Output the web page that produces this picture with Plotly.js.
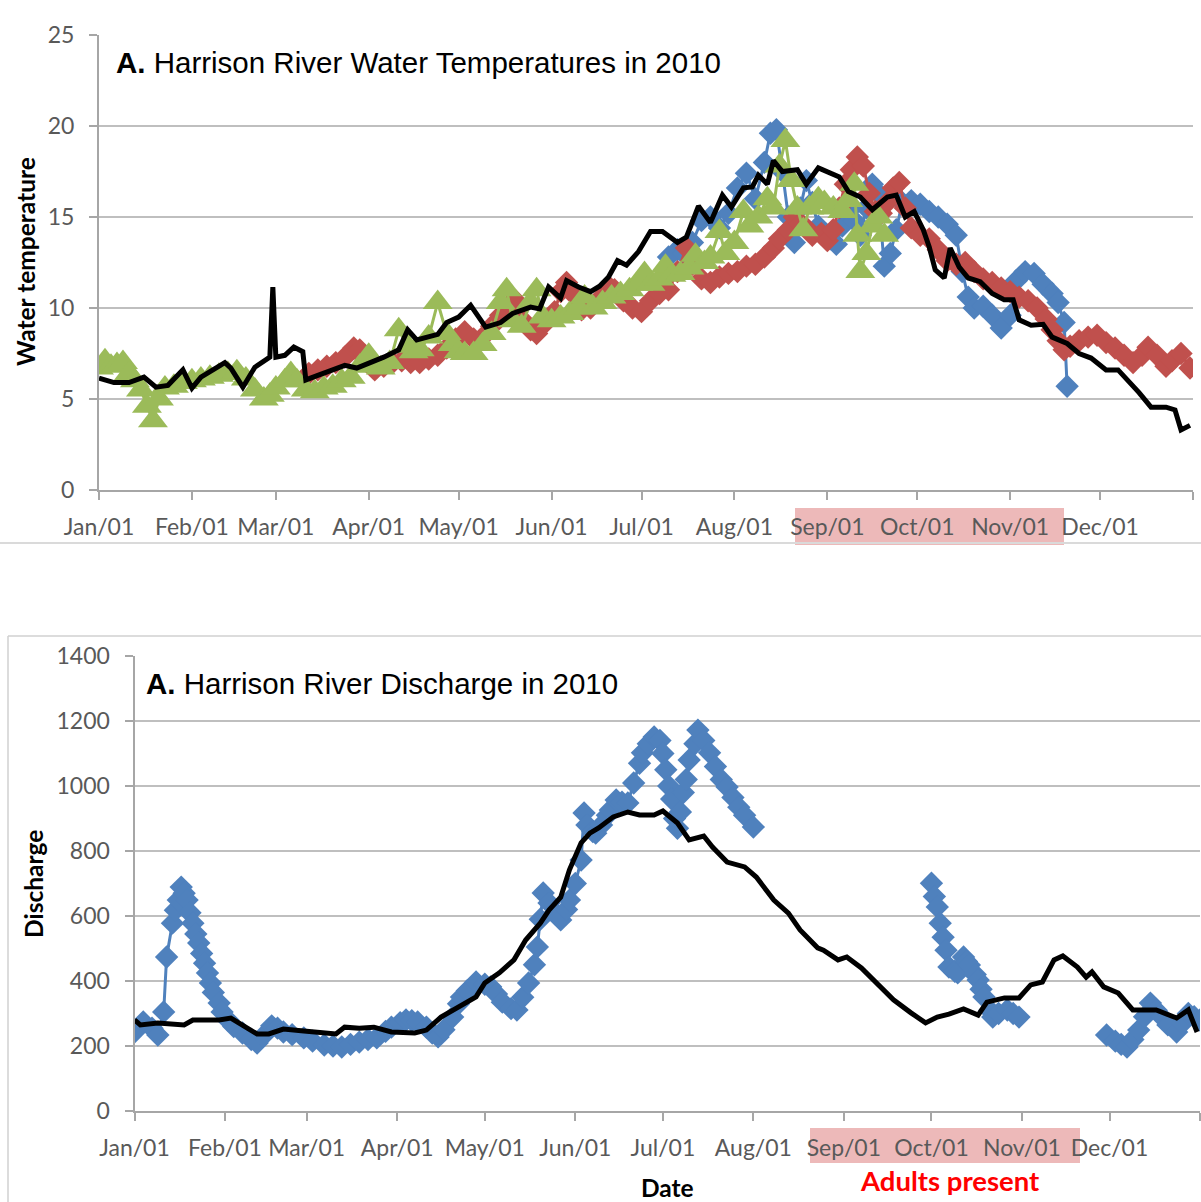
<!DOCTYPE html>
<html>
<head>
<meta charset="utf-8">
<script src="https://cdn.plot.ly/plotly-3.0.1.min.js"></script>
<style>
  html, body { margin: 0; padding: 0; background: #ffffff; }
  #chart { width: 1201px; height: 1202px; }
</style>
</head>
<body>
<div id="chart"></div>
<script>
// ---- Water temperature, 2010 (day of year counted from Jan 1) ----
const tempBlackDays = [0,5,10,15,19,23,28,31,34,39,42,44,48,52,56,57,58,59,62,65,68,69,73,78,82,86,91,95,100,103,106,110,113,116,120,124,129,134,138,144,147,150,154,156,160,164,167,170,173,176,180,184,188,193,196,200,204,208,211,215,218,220,223,225,228,233,236,240,244,247,250,254,258,263,266,269,272,275,277,279,282,284,287,290,294,298,302,305,307,311,315,318,323,327,331,336,340,344,347,351,356,359,361,364];
const tempBlack = [6.15,5.9,5.9,6.2,5.65,5.75,6.6,5.6,6.2,6.75,7.0,6.7,5.65,6.75,7.15,7.3,11.15,7.3,7.4,7.85,7.6,6.05,6.3,6.6,6.85,6.7,7.0,7.3,7.7,8.8,8.25,8.4,8.55,9.2,9.5,10.15,8.95,9.2,9.7,10.05,9.95,11.15,10.55,11.5,11.15,10.9,11.2,11.7,12.6,12.35,13.1,14.2,14.2,13.6,13.9,15.6,14.7,16.2,15.55,16.6,16.65,17.3,16.8,18.1,17.5,17.6,16.8,17.7,17.4,17.2,16.4,16.1,15.4,16.1,16.2,15.0,15.3,14.3,13.35,12.1,11.65,13.3,12.25,11.65,11.45,10.8,10.45,10.45,9.35,9.05,9.1,8.4,8.05,7.5,7.25,6.6,6.6,5.9,5.35,4.55,4.55,4.4,3.3,3.55];

const tempGreenDays = [0,2,4,6,8,10,12,14,16,18,20,22,25,28,31,34,37,40,43,46,49,52,55,57,59,62,64,66,69,72,75,78,81,84,87,90,92,94,97,100,103,105,107,110,113,116,118,120,122,125,128,131,134,136,138,141,144,146,148,151,154,157,160,162,165,168,171,174,177,180,182,184,187,189,191,194,197,199,202,204,207,209,212,215,217,220,223,225,227,229,231,233,235,237,240,242,245,248,250,252,253,254,256,258,260,262];
const tempGreen = [6.7,7.1,6.8,6.9,7.0,6.4,6.0,5.5,4.6,3.8,5.0,5.6,5.7,5.9,6.0,6.1,6.2,6.3,6.4,6.5,6.1,5.5,5.0,5.2,5.6,6.0,6.4,6.0,5.5,5.4,5.6,5.7,6.0,6.2,6.8,7.4,6.9,6.7,7.0,8.8,7.9,7.6,7.7,8.4,10.3,8.6,8.0,7.6,7.5,7.5,8.0,8.6,10.3,11.0,9.3,9.0,10.3,11.0,9.5,9.3,9.5,9.7,10.0,10.6,10.0,10.3,10.6,10.8,11.0,11.3,11.9,11.3,11.6,12.3,11.8,11.9,12.2,12.9,12.5,12.8,14.2,13.0,13.6,15.3,14.5,15.0,16.0,15.5,17.8,19.2,17.0,15.5,14.3,15.5,16.0,15.8,15.5,15.3,15.9,16.8,14.0,12.0,13.0,14.5,15.0,14.0];

const tempRedDays = [70,73,76,79,82,85,87,89,92,95,98,101,104,107,110,113,116,119,122,125,128,131,134,137,139,141,144,146,149,152,154,156,158,161,164,167,170,172,175,178,181,184,187,190,193,196,198,201,204,207,210,213,216,219,222,225,227,230,232,234,236,238,241,243,245,247,249,251,253,255,257,259,261,263,265,267,269,271,274,277,280,283,286,289,292,295,298,301,304,307,310,313,316,318,320,322,324,327,330,333,336,339,342,345,348,350,353,356,358,361,364];
const tempRed = [6.4,6.6,6.8,7.0,7.3,7.8,7.7,7.2,6.6,6.8,7.0,7.1,7.0,7.0,7.2,7.4,7.8,8.3,8.7,8.3,8.4,9.0,9.6,10.2,10.4,9.4,8.8,8.6,9.2,9.8,10.9,11.4,10.8,9.9,10.0,10.5,11.2,11.0,10.4,10.0,9.8,10.4,10.8,11.0,12.0,13.3,12.4,11.6,11.4,11.7,11.9,12.0,12.3,12.4,12.8,13.3,13.8,14.3,15.0,14.6,14.4,14.0,14.1,13.7,14.3,15.5,16.8,17.6,18.3,17.8,16.3,15.3,15.2,15.8,16.6,16.9,15.5,14.4,14.0,13.8,13.2,12.6,12.4,12.5,12.0,11.6,11.4,11.1,10.9,10.6,10.4,10.0,9.4,8.8,8.2,7.7,7.9,8.2,8.4,8.5,8.1,7.8,7.4,7.0,7.4,7.85,7.4,6.8,7.1,7.5,6.7];

const tempBlueDays = [190,193,195,198,201,204,207,210,213,216,219,222,224,226,228,230,232,234,236,238,240,242,244,246,248,250,252,254,256,258,260,262,264,266,268,271,274,277,280,283,286,288,290,292,295,298,301,304,306,309,312,315,318,320,322,323];
const tempBlue = [12.8,13.2,13.0,13.6,14.8,15.0,14.4,15.2,16.6,17.4,16.0,18.0,19.6,19.8,17.5,15.0,13.6,15.5,17.0,15.8,14.5,14.0,13.8,13.5,14.5,15.3,14.8,14.0,15.5,16.8,16.3,12.3,13.0,14.3,15.8,15.9,15.7,15.3,15.0,14.6,14.0,12.0,10.6,10.0,10.1,9.6,8.9,9.6,11.5,12.0,11.9,11.3,10.8,10.3,9.2,5.7];

// ---- Discharge, 2010 (null = no record, line is broken) ----
const flowBlackDays = [0,2,8,17,20,29,33,38,42,46,51,58,65,69,72,77,82,88,96,100,105,111,117,120,125,130,134,139,142,146,149,153,156,159,164,169,173,178,181,186,190,195,198,203,209,213,219,224,228,234,236,241,244,249,254,260,266,271,275,279,284,289,292,298,303,307,311,315,318,323,326,328,332,337,342,346,350,357,361,364];
const flowBlack = [280,265,271,265,280,280,286,258,237,237,252,246,240,237,258,255,258,243,240,249,289,320,351,394,425,465,526,578,618,658,742,825,855,871,905,920,911,911,923,886,834,846,812,766,751,720,649,609,557,502,495,465,474,440,394,342,302,271,289,298,314,295,335,348,348,388,397,465,477,443,412,428,382,363,311,311,311,286,311,243];

const flowBlueDays = [0,3,6,8,10,11,13,14,15,16,17,18,19,20,21,22,23,24,25,26,27,29,30,32,34,37,40,42,44,47,49,51,54,58,61,65,68,71,74,77,80,83,86,88,91,93,95,97,100,102,104,106,109,111,112,114,117,120,122,124,126,129,131,133,135,137,138,139,140,142,144,146,148,149,151,153,154,155,157,158,160,162,163,165,167,169,171,173,174,176,178,180,181,182,183,184,185,186,187,188,189,190,192,193,195,197,199,201,203,205,207,209,212,
  240,
  273,274,275,276,277,278,279,281,282,284,285,286,288,289,290,291,293,294,296,299,301,303,
  318,
  333,336,338,340,342,344,346,348,350,352,354,357,359,361,363,365];
const flowBlue = [243,274,255,234,305,474,578,618,649,689,670,649,610,578,545,517,485,455,425,394,365,332,305,280,260,240,220,209,230,262,255,243,235,225,215,203,200,197,205,212,220,225,245,258,272,280,278,274,258,240,228,250,289,330,351,370,397,390,382,360,335,315,311,350,394,450,505,590,671,640,610,588,620,649,700,772,917,880,860,855,880,910,926,957,950,948,1009,1070,1102,1130,1151,1140,1100,1050,1000,960,900,870,920,980,1020,1080,1130,1172,1140,1102,1060,1020,997,965,935,910,874,
  null,
  701,660,628,578,535,495,443,430,425,474,460,449,420,403,375,351,310,289,300,311,300,289,
  null,
  234,215,205,197,220,249,290,332,310,289,265,243,270,300,290,280];

// Month ticks (first of each month) plus the closing tick at year end
const monthTickDates = ['2010-01-01','2010-02-01','2010-03-01','2010-04-01','2010-05-01','2010-06-01','2010-07-01','2010-08-01','2010-09-01','2010-10-01','2010-11-01','2010-12-01','2011-01-01'];
const monthTickText = ['Jan/01','Feb/01','Mar/01','Apr/01','May/01','Jun/01','Jul/01','Aug/01','Sep/01','Oct/01','Nov/01','Dec/01',''];

const tempTicks = [0,5,10,15,20,25];
const flowTicks = [0,200,400,600,800,1000,1200,1400];

// ---- helpers ----
const DAY_MS = 86400000;
const START = Date.UTC(2010, 0, 1);
const toDate = d => new Date(START + d * DAY_MS).toISOString().slice(0, 10);

const W = 1201, H = 1202;
const px = x => x / W;           // paper x from page pixels
const py = y => (H - y) / H;     // paper y from page pixels

const BLUE = '#4F81BD', RED = '#C0504D', GREEN = '#9BBB59';
const TICK_FONT = {family: 'Lato, "Open Sans", sans-serif', size: 23, color: '#595959'};
const TITLE_FONT = {family: '"Liberation Sans", Arial, sans-serif', size: 29.5, color: '#000000'};
const AXIS_TITLE_FONT = {family: 'Lato, "Open Sans", sans-serif', size: 24.5, color: '#000000'};

function markerSeries(days, vals, color, symbol, size, xa, ya, lw) {
  return {
    type: 'scatter', mode: 'lines+markers',
    x: days.map(toDate), y: vals, xaxis: xa, yaxis: ya,
    line: {color: color, width: lw},
    marker: {symbol: symbol, size: size, color: color, line: {width: 0}},
    connectgaps: false, hoverinfo: 'x+y', showlegend: false
  };
}
function lineSeries(days, vals, xa, ya) {
  return {
    type: 'scatter', mode: 'lines',
    x: days.map(toDate), y: vals, xaxis: xa, yaxis: ya,
    line: {color: '#000000', width: 5},
    hoverinfo: 'x+y', showlegend: false
  };
}

const data = [
  markerSeries(tempBlueDays, tempBlue, BLUE, 'diamond', 18, 'x', 'y', 3),
  markerSeries(tempRedDays, tempRed, RED, 'diamond', 18, 'x', 'y', 3),
  markerSeries(tempGreenDays, tempGreen, GREEN, 'triangle-up', 26, 'x', 'y', 3),
  lineSeries(tempBlackDays, tempBlack, 'x', 'y'),
  markerSeries(flowBlueDays, flowBlue, BLUE, 'diamond', 18, 'x2', 'y2', 3),
  lineSeries(flowBlackDays, flowBlack, 'x2', 'y2')
];

function dateAxis(domain, anchor) {
  return {
    type: 'date', domain: domain, anchor: anchor,
    range: ['2010-01-01', '2011-01-01'],
    tickmode: 'array', tickvals: monthTickDates, ticktext: monthTickText,
    ticks: 'outside', ticklen: 8, tickwidth: 2, tickcolor: '#A6A6A6',
    showline: true, linecolor: '#A6A6A6', linewidth: 2,
    showgrid: false, zeroline: false,
    tickfont: TICK_FONT, ticklabelstandoff: 7, fixedrange: true
  };
}
function valueAxis(domain, anchor, range, ticks) {
  return {
    domain: domain, anchor: anchor, range: range,
    tickmode: 'array', tickvals: ticks,
    ticks: 'outside', ticklen: 8, tickwidth: 2, tickcolor: '#A6A6A6',
    showline: true, linecolor: '#A6A6A6', linewidth: 2,
    showgrid: true, gridcolor: '#BFBFBF', gridwidth: 2,
    zeroline: false, tickfont: TICK_FONT, ticklabelstandoff: 10, fixedrange: true
  };
}

const layout = {
  width: W, height: H,
  margin: {l: 0, r: 0, t: 0, b: 0},
  paper_bgcolor: '#ffffff', plot_bgcolor: 'rgba(0,0,0,0)',
  showlegend: false,
  xaxis: dateAxis([px(99), px(1193)], 'y'),
  yaxis: valueAxis([py(490), py(35)], 'x', [0, 25], tempTicks),
  xaxis2: dateAxis([px(134.5), px(1200)], 'y2'),
  yaxis2: valueAxis([py(1111), py(656)], 'x2', [0, 1400], flowTicks),
  shapes: [
    // spawning-period highlight behind the Sep-Nov labels
    {type: 'rect', xref: 'paper', yref: 'paper', layer: 'below',
     x0: px(795), x1: px(1064), y0: py(545), y1: py(508),
     fillcolor: '#EDB9B9', line: {width: 0}},
    {type: 'rect', xref: 'paper', yref: 'paper', layer: 'below',
     x0: px(810), x1: px(1080), y0: py(1163), y1: py(1128),
     fillcolor: '#EDB9B9', line: {width: 0}},
    // panel separators
    {type: 'line', xref: 'paper', yref: 'paper', x0: 0, x1: 1, y0: py(543), y1: py(543),
     line: {color: '#DADADA', width: 2}},
    {type: 'line', xref: 'paper', yref: 'paper', x0: px(8), x1: 1, y0: py(636), y1: py(636),
     line: {color: '#D0D0D0', width: 1.5}},
    {type: 'line', xref: 'paper', yref: 'paper', x0: px(8), x1: px(8), y0: 0, y1: py(636),
     line: {color: '#D0D0D0', width: 1.5}}
  ],
  annotations: [
    {text: '<b>A.</b> Harrison River Water Temperatures in 2010', xref: 'paper', yref: 'paper',
     x: px(114), y: py(63), xanchor: 'left', yanchor: 'middle', showarrow: false, font: TITLE_FONT},
    {text: '<b>A.</b> Harrison River Discharge in 2010', xref: 'paper', yref: 'paper',
     x: px(144), y: py(684), xanchor: 'left', yanchor: 'middle', showarrow: false, font: TITLE_FONT},
    {text: '<b>Water temperature</b>', xref: 'paper', yref: 'paper', textangle: -90,
     x: px(25), y: py(262), xanchor: 'center', yanchor: 'middle', showarrow: false, font: AXIS_TITLE_FONT},
    {text: '<b>Discharge</b>', xref: 'paper', yref: 'paper', textangle: -90,
     x: px(33), y: py(884), xanchor: 'center', yanchor: 'middle', showarrow: false, font: AXIS_TITLE_FONT},
    {text: '<b>Date</b>', xref: 'paper', yref: 'paper',
     x: px(667), y: py(1187), xanchor: 'center', yanchor: 'middle', showarrow: false, font: AXIS_TITLE_FONT},
    {text: '<b>Adults present</b>', xref: 'paper', yref: 'paper',
     x: px(950), y: py(1180), xanchor: 'center', yanchor: 'middle', showarrow: false,
     font: {family: 'Lato, "Open Sans", sans-serif', size: 27.5, color: '#FF0000'}}
  ]
};

Plotly.newPlot('chart', data, layout, {staticPlot: true, displayModeBar: false});
</script>
</body>
</html>
